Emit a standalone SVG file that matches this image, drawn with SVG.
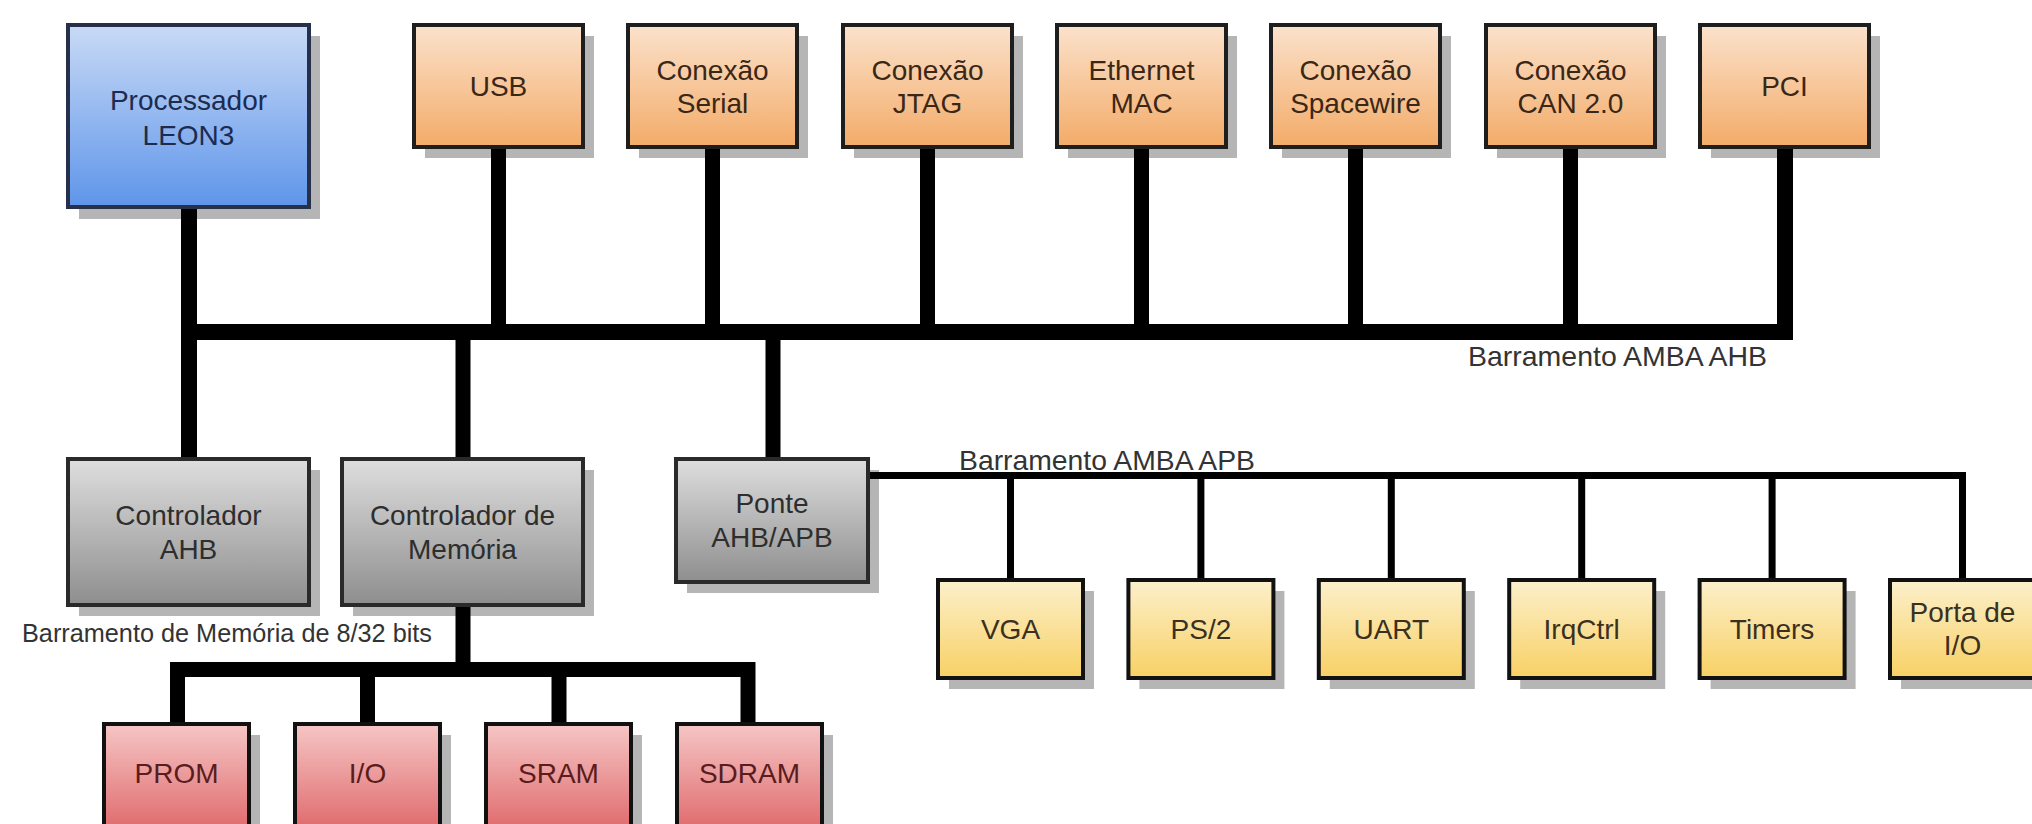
<svg xmlns="http://www.w3.org/2000/svg" width="2032" height="824" viewBox="0 0 2032 824">
<style>
  .sh { fill: #b5b5b5; }
  .box { stroke: #1e1e1e; stroke-width: 4; }
  .blue { fill: url(#gBlue); stroke: #26304a; }
  .orange { fill: url(#gOrange); }
  .gray { fill: url(#gGray); stroke: #2a2a2a; }
  .yellow { fill: url(#gYellow); stroke: #111; }
  .red { fill: url(#gRed); stroke: #111; }
  text { font-family: "Liberation Sans", Arial, sans-serif; font-size: 28px; text-anchor: middle; fill: #2a2a2a; }
  .tb { fill: #1d2b4f; }
  .to { fill: #3a2716; }
  .tg { fill: #2e2e2e; }
  .ty { fill: #3a3020; }
  .tr { fill: #5a1c1c; }
  .lbl { text-anchor: start; fill: #333; }
  .bus { fill: none; stroke: #000; stroke-linejoin: miter; stroke-linecap: butt; }
</style>
<defs>
  <linearGradient id="gBlue" x1="0" y1="0" x2="0" y2="1">
    <stop offset="0" stop-color="#c9daf6"/><stop offset="1" stop-color="#5e95ea"/>
  </linearGradient>
  <linearGradient id="gOrange" x1="0" y1="0" x2="0" y2="1">
    <stop offset="0" stop-color="#fbe2cc"/><stop offset="1" stop-color="#f3ab68"/>
  </linearGradient>
  <linearGradient id="gGray" x1="0" y1="0" x2="0" y2="1">
    <stop offset="0" stop-color="#dedede"/><stop offset="1" stop-color="#8e8e8e"/>
  </linearGradient>
  <linearGradient id="gYellow" x1="0" y1="0" x2="0" y2="1">
    <stop offset="0" stop-color="#fcf0cc"/><stop offset="1" stop-color="#f8d064"/>
  </linearGradient>
  <linearGradient id="gRed" x1="0" y1="0" x2="0" y2="1">
    <stop offset="0" stop-color="#f6c6c6"/><stop offset="1" stop-color="#e06c6e"/>
  </linearGradient>
</defs>
<rect width="2032" height="824" fill="#ffffff"/>

<!-- shadows -->
<g id="shadows">
  <rect class="sh" x="79" y="36" width="241" height="183"/>
  <rect class="sh" x="425" y="36" width="169" height="122"/>
  <rect class="sh" x="639" y="36" width="169" height="122"/>
  <rect class="sh" x="854" y="36" width="169" height="122"/>
  <rect class="sh" x="1068" y="36" width="169" height="122"/>
  <rect class="sh" x="1282" y="36" width="169" height="122"/>
  <rect class="sh" x="1497" y="36" width="169" height="122"/>
  <rect class="sh" x="1711" y="36" width="169" height="122"/>
  <rect class="sh" x="79" y="470" width="241" height="146"/>
  <rect class="sh" x="353" y="470" width="241" height="146"/>
  <rect class="sh" x="687" y="470" width="192" height="123"/>
  <rect class="sh" x="949" y="591" width="145" height="98"/>
  <rect class="sh" x="1139.4" y="591" width="145" height="98"/>
  <rect class="sh" x="1329.8" y="591" width="145" height="98"/>
  <rect class="sh" x="1520.2" y="591" width="145" height="98"/>
  <rect class="sh" x="1710.6" y="591" width="145" height="98"/>
  <rect class="sh" x="1901" y="591" width="145" height="98"/>
  <rect class="sh" x="115" y="735" width="145" height="104"/>
  <rect class="sh" x="306" y="735" width="145" height="104"/>
  <rect class="sh" x="497" y="735" width="145" height="104"/>
  <rect class="sh" x="688" y="735" width="145" height="104"/>
</g>

<!-- connectors -->
<g id="connectors">
  <!-- AHB bus -->
  <path class="bus" stroke-width="16" d="M189,207 V459 M189,332 H1785 V147"/>
  <path class="bus" stroke-width="15" d="M498.5,147 V332 M712.5,147 V332 M927.5,147 V332 M1141.5,147 V332 M1355.5,147 V332 M1570.5,147 V332"/>
  <path class="bus" stroke-width="15" d="M463,332 V459 M773,332 V459"/>
  <!-- APB bus -->
  <path class="bus" stroke-width="7" d="M868,475.5 H1962.5 V580"/>
  <path class="bus" stroke-width="7" d="M1010.5,475.5 V580 M1200.9,475.5 V580 M1391.3,475.5 V580 M1581.7,475.5 V580 M1772.1,475.5 V580"/>
  <!-- memory bus -->
  <path class="bus" stroke-width="15" d="M463,605 V669.5"/>
  <path class="bus" stroke-width="15" d="M177.5,724 V669.5 H748 V724"/>
  <path class="bus" stroke-width="15" d="M367.5,669.5 V724 M559,669.5 V724"/>
</g>

<!-- bus labels -->
<text class="lbl" x="1468" y="366" textLength="299" lengthAdjust="spacingAndGlyphs">Barramento AMBA AHB</text>
<text class="lbl" x="959" y="470" textLength="296" lengthAdjust="spacingAndGlyphs">Barramento AMBA APB</text>
<text class="lbl" x="22" y="642" font-size="25" style="font-size:25px" textLength="410" lengthAdjust="spacingAndGlyphs">Barramento de Memória de 8/32 bits</text>

<!-- top row -->
<g id="processador">
  <rect class="box blue" x="68" y="25" width="241" height="182"/>
  <text class="tb" x="188.5" y="110">Processador</text>
  <text class="tb" x="188.5" y="145">LEON3</text>
</g>
<g id="usb">
  <rect class="box orange" x="414" y="25" width="169" height="122"/>
  <text class="to" x="498.5" y="96">USB</text>
</g>
<g id="serial">
  <rect class="box orange" x="628" y="25" width="169" height="122"/>
  <text class="to" x="712.5" y="80">Conexão</text>
  <text class="to" x="712.5" y="113">Serial</text>
</g>
<g id="jtag">
  <rect class="box orange" x="843" y="25" width="169" height="122"/>
  <text class="to" x="927.5" y="80">Conexão</text>
  <text class="to" x="927.5" y="113">JTAG</text>
</g>
<g id="ethernet">
  <rect class="box orange" x="1057" y="25" width="169" height="122"/>
  <text class="to" x="1141.5" y="80">Ethernet</text>
  <text class="to" x="1141.5" y="113">MAC</text>
</g>
<g id="spacewire">
  <rect class="box orange" x="1271" y="25" width="169" height="122"/>
  <text class="to" x="1355.5" y="80">Conexão</text>
  <text class="to" x="1355.5" y="113">Spacewire</text>
</g>
<g id="can">
  <rect class="box orange" x="1486" y="25" width="169" height="122"/>
  <text class="to" x="1570.5" y="80">Conexão</text>
  <text class="to" x="1570.5" y="113">CAN 2.0</text>
</g>
<g id="pci">
  <rect class="box orange" x="1700" y="25" width="169" height="122"/>
  <text class="to" x="1784.5" y="96">PCI</text>
</g>

<!-- middle row -->
<g id="ctrl-ahb">
  <rect class="box gray" x="68" y="459" width="241" height="146"/>
  <text class="tg" x="188.5" y="525">Controlador</text>
  <text class="tg" x="188.5" y="559">AHB</text>
</g>
<g id="ctrl-mem">
  <rect class="box gray" x="342" y="459" width="241" height="146"/>
  <text class="tg" x="462.5" y="525">Controlador de</text>
  <text class="tg" x="462.5" y="559">Memória</text>
</g>
<g id="ponte">
  <rect class="box gray" x="676" y="459" width="192" height="123"/>
  <text class="tg" x="772" y="513">Ponte</text>
  <text class="tg" x="772" y="547">AHB/APB</text>
</g>

<!-- APB peripherals -->
<g id="vga">
  <rect class="box yellow" x="938" y="580" width="145" height="98"/>
  <text class="ty" x="1010.5" y="639">VGA</text>
</g>
<g id="ps2">
  <rect class="box yellow" x="1128.4" y="580" width="145" height="98"/>
  <text class="ty" x="1200.9" y="639">PS/2</text>
</g>
<g id="uart">
  <rect class="box yellow" x="1318.8" y="580" width="145" height="98"/>
  <text class="ty" x="1391.3" y="639">UART</text>
</g>
<g id="irqctrl">
  <rect class="box yellow" x="1509.2" y="580" width="145" height="98"/>
  <text class="ty" x="1581.7" y="639">IrqCtrl</text>
</g>
<g id="timers">
  <rect class="box yellow" x="1699.6" y="580" width="145" height="98"/>
  <text class="ty" x="1772.1" y="639">Timers</text>
</g>
<g id="porta-io">
  <rect class="box yellow" x="1890" y="580" width="145" height="98"/>
  <text class="ty" x="1962.5" y="622">Porta de</text>
  <text class="ty" x="1962.5" y="655">I/O</text>
</g>

<!-- memories -->
<g id="prom">
  <rect class="box red" x="104" y="724" width="145" height="104"/>
  <text class="tr" x="176.5" y="783">PROM</text>
</g>
<g id="io">
  <rect class="box red" x="295" y="724" width="145" height="104"/>
  <text class="tr" x="367.5" y="783">I/O</text>
</g>
<g id="sram">
  <rect class="box red" x="486" y="724" width="145" height="104"/>
  <text class="tr" x="558.5" y="783">SRAM</text>
</g>
<g id="sdram">
  <rect class="box red" x="677" y="724" width="145" height="104"/>
  <text class="tr" x="749.5" y="783">SDRAM</text>
</g>
</svg>
